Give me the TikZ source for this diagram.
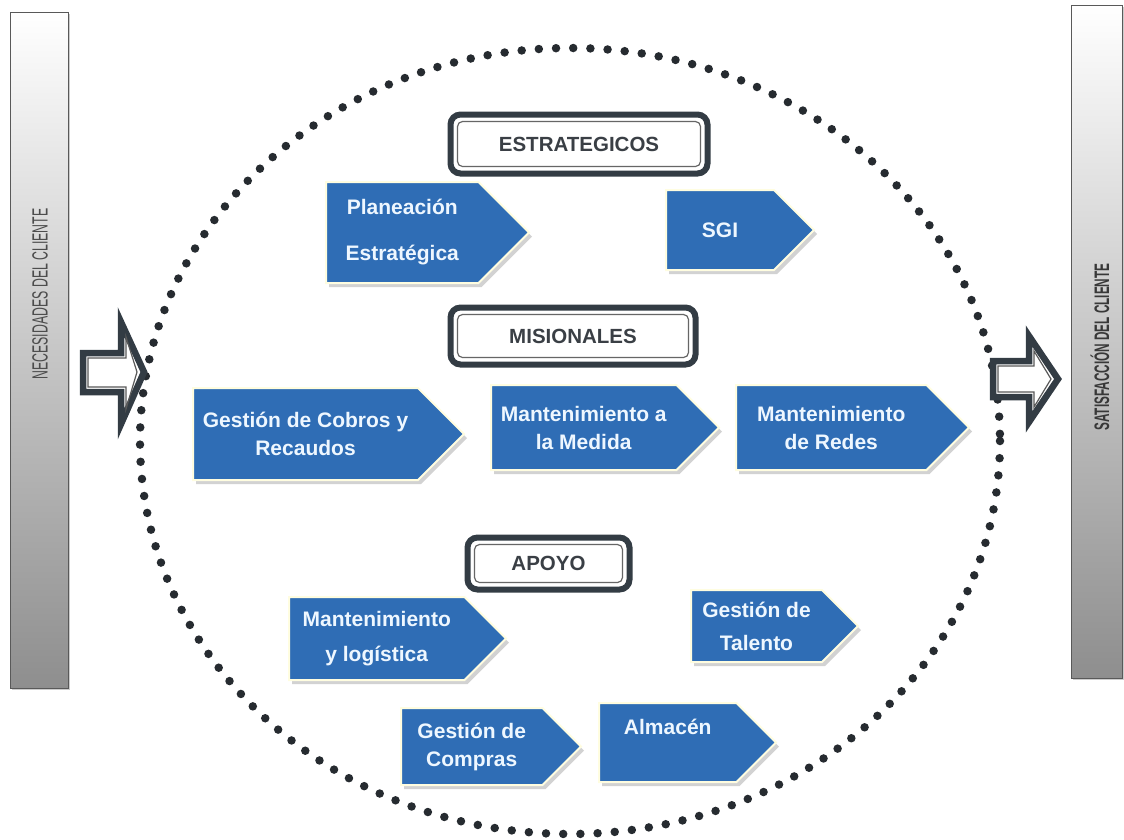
\documentclass[tikz,border=0pt]{standalone}
\usepackage{fontspec}
\setmainfont{Liberation Sans}
\newfontfamily\narrowfont{Liberation Sans}[FakeStretch=0.56]
\usetikzlibrary{shapes.symbols,shadows}
\definecolor{procblue}{HTML}{2F6DB5}
\definecolor{proctext}{HTML}{EEF7FF}
\definecolor{framedark}{HTML}{333C44}
\definecolor{titletext}{HTML}{3A3F45}
\definecolor{bargray}{HTML}{8E8E8E}
\definecolor{dotcol}{HTML}{262B30}

\begin{document}
\begin{tikzpicture}[x=1pt,y=-1pt,
procarrow/.style={signal,signal to=east,signal pointer angle=90,fill=procblue,draw=white!88!yellow,line width=2pt,text=proctext,font=\fontsize{21}{28}\selectfont\bfseries,align=center,inner sep=0pt,anchor=west,drop shadow={shadow xshift=3pt,shadow yshift=-4pt,fill=black!35}},
headframe/.style={draw=framedark,line width=6pt,rounded corners=10pt,fill=white,drop shadow={shadow xshift=2pt,shadow yshift=-2pt,fill=black!50}},
headbox/.style={draw=gray!80!black,line width=1.2pt,rounded corners=5pt,text=titletext,font=\fontsize{20.5}{24}\selectfont\bfseries},
sidebar/.style={draw=gray!70!black,line width=0.8pt,top color=white,bottom color=bargray,drop shadow={shadow xshift=1.5pt,shadow yshift=-1.5pt,fill=black!40}},
bartext/.style={rotate=90,text=black!70,font=\narrowfont\fontsize{22}{24}\selectfont},
hollowout/.style={draw=framedark,line width=6.5pt,fill=white,line join=miter},
hollowin/.style={draw=gray!70!black,line width=1.2pt},
dots/.style={draw=dotcol,line width=8.5pt,line cap=round,dash pattern=on 0pt off 17.2pt}]

% side bars
\node[sidebar,minimum width=58,minimum height=676] (necbar) at (39,350) {};
\node[bartext] (nectext) at (40,294) {NECESIDADES DEL CLIENTE};
\node[sidebar,minimum width=51,minimum height=673] (satbar) at (1096.5,341.5) {};
\node[bartext,text=black!78,font=\narrowfont\bfseries\fontsize{21}{24}\selectfont] (sattext) at (1100,347) {SATISFACCIÓN DEL CLIENTE};

% process boundary
\draw[dots] (570,441) ellipse [x radius=430, y radius=393];

% input and output arrows
\draw[hollowout] (83,353) -- (121,353) -- (121,322) -- (144,372) -- (121,424) -- (121,392) -- (83,392) -- cycle;
\draw[hollowin] (88,358) -- (126,358) -- (126,337) -- (137,372) -- (126,409) -- (126,387) -- (88,387) -- cycle;
\draw[hollowout] (993,361) -- (1029,361) -- (1029,336) -- (1058,379) -- (1029,422) -- (1029,397) -- (993,397) -- cycle;
\draw[hollowin] (998,366) -- (1034,366) -- (1034,351) -- (1051,379) -- (1034,407) -- (1034,392) -- (998,392) -- cycle;

% group headers
\node[headframe,minimum width=257,minimum height=59] (estframe) at (579,144) {};
\node[headbox,minimum width=243,minimum height=45] (est) at (estframe.center) {ESTRATEGICOS};
\node[headframe,minimum width=245,minimum height=57] (misframe) at (573,336) {};
\node[headbox,minimum width=231,minimum height=43] (mis) at (misframe.center) {MISIONALES};
\node[headframe,minimum width=162,minimum height=52] (apoframe) at (548.5,563.5) {};
\node[headbox,minimum width=148,minimum height=38] (apo) at (apoframe.center) {APOYO};

% estrategicos
\node[procarrow,minimum width=203,minimum height=101] (plan) at (325,232.5) {Planeación\\[18pt]Estratégica};
\node[procarrow,minimum width=148,minimum height=80] (sgi) at (665,230) {SGI};
% misionales
\node[procarrow,minimum width=271,minimum height=92] (cobros) at (192,434) {Gestión de Cobros y\\Recaudos};
\node[procarrow,minimum width=228,minimum height=85] (medida) at (490,427.5) {Mantenimiento a\\la Medida};
\node[procarrow,minimum width=233,minimum height=85] (redes) at (735,427.5) {Mantenimiento\\de Redes};
% apoyo
\node[procarrow,minimum width=217,minimum height=83] (logist) at (288,638.5) {Mantenimiento\\[7pt]y logística};
\node[procarrow,minimum width=167,minimum height=72] (talento) at (690,626) {Gestión de\\[5pt]Talento};
\node[procarrow,minimum width=180,minimum height=77] (compras) at (400,746.5) {Gestión de\\Compras};
\node[procarrow,minimum width=177,minimum height=79] (almacen) at (598,742.5) {Almacén\\[4pt]\mbox{}};

\useasboundingbox (0,0) rectangle (1124,839);
\end{tikzpicture}
\end{document}
